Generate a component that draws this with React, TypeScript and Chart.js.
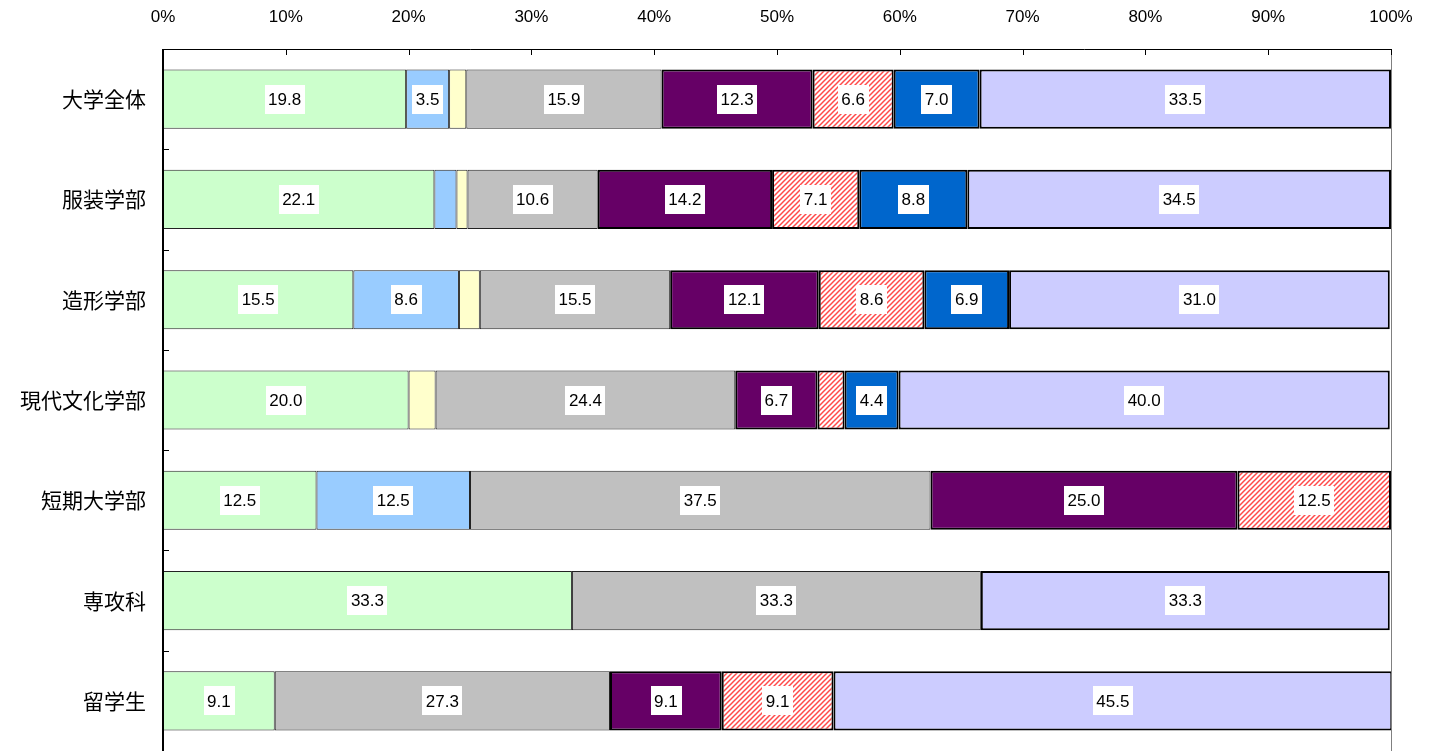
import React, { useEffect, useRef } from 'react';
import { Chart, registerables } from 'chart.js';

Chart.register(...registerables);

const categories = ['大学全体', '服装学部', '造形学部', '現代文化学部', '短期大学部', '専攻科', '留学生'];
const seriesNames = ['回答1', '回答2', '回答3', '回答4', '回答5', '回答6', '回答7', '回答8'];
const s1 = [19.8, 22.1, 15.5, 20.0, 12.5, 33.3, 9.1];
const s2 = [3.5, 1.8, 8.6, null, 12.5, null, null];
const s3 = [1.4, 0.9, 1.7, 2.2, null, null, null];
const s4 = [15.9, 10.6, 15.5, 24.4, 37.5, 33.3, 27.3];
const s5 = [12.3, 14.2, 12.1, 6.7, 25.0, null, 9.1];
const s6 = [6.6, 7.1, 8.6, 2.2, 12.5, null, 9.1];
const s7 = [7.0, 8.8, 6.9, 4.4, null, null, null];
const s8 = [33.5, 34.5, 31.0, 40.0, null, 33.3, 45.5];
const xTickValues = [0, 10, 20, 30, 40, 50, 60, 70, 80, 90, 100];
const labelThreshold = 3;

function makeHatch(): CanvasPattern | string {
  const c = document.createElement('canvas');
  c.width = 5;
  c.height = 5;
  const g = c.getContext('2d');
  if (!g) return '#ff6666';
  g.fillStyle = '#ffffff';
  g.fillRect(0, 0, 5, 5);
  g.strokeStyle = '#ff4a4a';
  g.lineWidth = 1.5;
  g.beginPath();
  g.moveTo(-1, 6); g.lineTo(6, -1);
  g.moveTo(-1, 1); g.lineTo(1, -1);
  g.moveTo(4, 6); g.lineTo(6, 4);
  g.stroke();
  const p = g.createPattern(c, 'repeat');
  return p || '#ff6666';
}

const decorPlugin = {
  id: 'decor',
  afterDatasetsDraw(chart: any) {
    const ctx = chart.ctx;
    const ca = chart.chartArea;
    const xs = chart.scales.x;
    const ys = chart.scales.y;
    ctx.save();
    ctx.font = '17px "Liberation Sans", Arial, sans-serif';
    ctx.textAlign = 'center';
    ctx.textBaseline = 'middle';
    chart.data.datasets.forEach((ds: any, di: number) => {
      const meta = chart.getDatasetMeta(di);
      meta.data.forEach((el: any, i: number) => {
        const v = ds.data[i];
        if (v == null || v < labelThreshold) return;
        const cx = (el.x + el.base) / 2;
        const cy = el.y;
        const txt = v.toFixed(1);
        const w = ctx.measureText(txt).width + 7;
        const h = 29;
        ctx.fillStyle = '#ffffff';
        ctx.fillRect(Math.round(cx - w / 2), Math.round(cy - h / 2), Math.round(w), h);
        ctx.fillStyle = '#000000';
        ctx.fillText(txt, cx, cy + 1);
      });
    });
    ctx.restore();

    ctx.save();
    ctx.strokeStyle = '#808080';
    ctx.lineWidth = 1;
    ctx.beginPath();
    ctx.moveTo(ca.right + 0.5, ca.top);
    ctx.lineTo(ca.right + 0.5, ca.bottom);
    ctx.stroke();
    ctx.strokeStyle = '#000000';
    ctx.beginPath();
    ctx.moveTo(ca.left, ca.top + 0.5);
    ctx.lineTo(ca.right + 1, ca.top + 0.5);
    ctx.stroke();
    xTickValues.forEach((v) => {
      const px = Math.round(xs.getPixelForValue(v)) + 0.5;
      ctx.beginPath();
      ctx.moveTo(px, ca.top);
      ctx.lineTo(px, ca.top + 6);
      ctx.stroke();
    });
    ctx.lineWidth = 2;
    ctx.beginPath();
    ctx.moveTo(ca.left, ca.top);
    ctx.lineTo(ca.left, ca.bottom);
    ctx.stroke();
    ctx.lineWidth = 1;
    for (let i = 1; i < categories.length; i++) {
      const py = Math.round((ys.getPixelForValue(i - 1) + ys.getPixelForValue(i)) / 2) + 0.5;
      ctx.beginPath();
      ctx.moveTo(ca.left, py);
      ctx.lineTo(ca.left + 6, py);
      ctx.stroke();
    }
    ctx.restore();
  },
};

export default function App() {
  const ref = useRef<HTMLCanvasElement | null>(null);
  useEffect(() => {
    document.body.style.margin = '0';
    const canvas = ref.current;
    if (!canvas) return;
    const hatch = makeHatch();
    const values = [s1, s2, s3, s4, s5, s6, s7, s8];
    const fills: any[] = ['#CCFFCC', '#99CCFF', '#FFFFCC', '#C0C0C0', '#660066', hatch, '#0066CC', '#CCCCFF'];
    const bw = [1, 1, 1, 1, 2, 2, 2, 2];
    const datasets = values.map((d, i) => ({
      label: seriesNames[i],
      data: d,
      backgroundColor: fills[i],
      borderColor: i < 4 ? '#222222' : '#000000',
      borderWidth: bw[i],
      borderSkipped: false,
      barPercentage: 0.59,
      categoryPercentage: 1,
    }));
    const chart = new Chart(canvas, {
      type: 'bar',
      data: { labels: categories, datasets },
      options: {
        indexAxis: 'y',
        animation: false,
        responsive: false,
        maintainAspectRatio: false,
        layout: { padding: { left: 0, right: 43, top: 0, bottom: 0 } },
        plugins: { legend: { display: false }, tooltip: { enabled: false } },
        scales: {
          x: {
            position: 'top',
            stacked: true,
            min: 0,
            max: 100,
            afterBuildTicks: (scale: any) => {
              scale.ticks = xTickValues.map((v) => ({ value: v }));
            },
            afterFit: (scale: any) => {
              scale.height = 49;
              scale.paddingTop = 0;
              scale.paddingBottom = 0;
            },
            grid: { display: false, drawTicks: false },
            border: { display: false },
            ticks: {
              padding: 21,
              color: '#000000',
              font: { family: '"Liberation Sans", Arial, sans-serif', size: 17 },
              callback: (v: any) => v + '%',
              maxRotation: 0,
            },
          },
          y: {
            stacked: true,
            afterFit: (scale: any) => {
              scale.width = 163;
              scale.paddingTop = 0;
              scale.paddingBottom = 0;
            },
            grid: { display: false, drawTicks: false },
            border: { display: false },
            ticks: {
              padding: 17,
              color: '#000000',
              font: { family: '"Noto Sans CJK JP", sans-serif', size: 21 },
            },
          },
        },
      },
      plugins: [decorPlugin],
    });
    const ca = chart.chartArea;
    const deficit = 751 - ca.bottom;
    if (deficit > 1) {
      (chart.options as any).layout.padding.bottom = -deficit;
      chart.update();
    }
    return () => chart.destroy();
  }, []);
  return (
    <div style={{ position: 'absolute', left: 0, top: 0, width: 1434, height: 751, background: '#ffffff' }}>
      <canvas ref={ref} width={1434} height={751} style={{ display: 'block' }} />
    </div>
  );
}
